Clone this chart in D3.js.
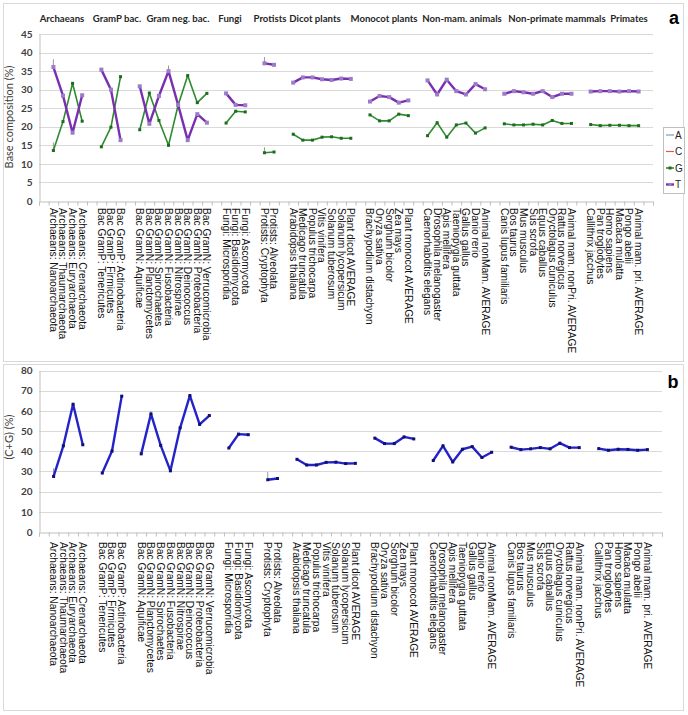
<!DOCTYPE html>
<html>
<head>
<meta charset="utf-8">
<script src="https://cdn.jsdelivr.net/npm/d3@7"></script>
<style>
  body { margin: 0; background: #fff; }
  svg { display: block; }
</style>
</head>
<body>
<script>
"use strict";

// categories along x, "" marks a blank slot between groups
var categories = ["",
  "Archaeans: Nanoarchaeota", "Archaeans: Thaumarchaeota", "Archaeans: Euryarchaeota", "Archaeans: Crenarchaeota", "",
  "Bac GramP: Tenericutes", "Bac GramP: Firmicutes", "Bac GramP: Actinobacteria", "",
  "Bac GramN: Aquificae", "Bac GramN: Planctomycetes", "Bac GramN: Spirochaetes", "Bac GramN: Fusobacteria",
  "Bac GramN: Nitrospirae", "Bac GramN: Deinococcus", "Bac GramN: Proteobacteria", "Bac GramN: Verrucomicrobia", "",
  "Fungi: Microsporidia", "Fungi: Basidiomycota", "Fungi: Ascomycota", "",
  "Protists: Cryptophyta", "Protists: Alveolata", "",
  "Arabidopsis thaliana", "Medicago truncatula", "Populus trichocarpa", "Vitis vinifera",
  "Solanum tuberosum", "Solanum lycopersicum", "Plant dicot AVERAGE", "",
  "Brachypodium distachyon", "Oryza sativa", "Sorghum bicolor", "Zea mays", "Plant monocot  AVERAGE", "",
  "Caenorhabditis elegans", "Drosophila melanogaster", "Apis mellifera", "Taeniopygia guttata",
  "Gallus gallus", "Danio rerio", "Animal nonMam. AVERAGE", "",
  "Canis lupus familiaris", "Bos taurus", "Mus musculus", "Sus scrofa", "Equus caballus",
  "Oryctolagus cuniculus", "Rattus norvegicus", "Animal mam. nonPri. AVERAGE", "",
  "Callithrix jacchus", "Pan troglodytes", "Homo sapiens", "Macaca mulatta", "Pongo abelii",
  "Animal mam. pri. AVERAGE", ""];

var groups = ["Archaeans", "GramP bac.", "Gram neg. bac.", "Fungi", "Protists", "Dicot plants",
  "Monocot plants", "Non-mam. animals", "Non-primate mammals", "Primates"];

// base composition (%) of T and G
var tValues = [null,
  36.1, 28.4, 18.4, 28.5, null,
  35.4, 30.0, 16.4, null,
  30.9, 20.8, 28.3, 35.0, 25.9, 16.4, 23.4, 21.1, null,
  29.0, 25.9, 25.8, null,
  37.1, 36.7, null,
  31.9, 33.3, 33.3, 32.8, 32.6, 33.0, 32.9, null,
  26.8, 28.3, 28.0, 26.5, 27.1, null,
  32.5, 28.7, 32.7, 29.6, 28.7, 31.5, 30.1, null,
  28.9, 29.6, 29.3, 28.9, 29.6, 28.0, 28.9, 28.9, null,
  29.5, 29.6, 29.6, 29.5, 29.6, 29.5, null];

var gValues = [null,
  13.6, 21.4, 31.7, 21.5, null,
  14.6, 19.9, 33.5, null,
  19.2, 29.1, 21.7, 15.0, 25.8, 33.8, 26.5, 29.0, null,
  21.0, 24.2, 24.0, null,
  13.0, 13.2, null,
  18.0, 16.4, 16.4, 17.2, 17.3, 16.9, 16.9, null,
  23.2, 21.6, 21.6, 23.4, 23.0, null,
  17.6, 21.1, 17.2, 20.5, 21.0, 18.3, 19.7, null,
  20.8, 20.5, 20.5, 20.7, 20.5, 21.7, 20.9, 20.9, null,
  20.6, 20.3, 20.4, 20.4, 20.3, 20.3, null];

// (C+G) content (%)
var cgValues = [null,
  27.5, 42.7, 63.3, 43.2, null,
  29.2, 40.1, 67.3, null,
  38.7, 58.5, 42.9, 30.3, 51.6, 67.6, 53.3, 57.7, null,
  41.6, 48.5, 48.2, null,
  25.9, 26.5, null,
  36.0, 33.2, 33.2, 34.5, 34.6, 33.9, 34.0, null,
  46.5, 43.8, 43.8, 47.1, 46.1, null,
  35.4, 42.7, 34.7, 41.0, 42.3, 36.9, 39.5, null,
  42.0, 40.8, 41.2, 41.8, 41.2, 44.0, 41.8, 41.8, null,
  41.3, 40.5, 41.0, 40.9, 40.5, 40.8, null];

// upper ends of the few visible error bars: [category index, value]
var tErr = [[1, 38.2], [13, 36.5], [23, 38.8]];
var gErr = [[1, 15.8], [23, 14.5]];
var cgErr = [[1, 31.6], [11, 60.0], [23, 29.7]];

var yTicksA = d3.range(0, 46, 5);
var yTicksB = d3.range(0, 81, 10);
var legendKeys = ["A", "C", "G", "T"];

var colors = { A: "#6f9fd8", C: "#e8505a", G: "#2e8b2e", T: "#7a2fb0", CG: "#2323c8" };

var W = 688, H = 715;
var svg = d3.select("body").append("svg").attr("width", W).attr("height", H)
  .style("font-family", "'Liberation Sans', Arial, sans-serif");

// panel frames
svg.append("rect").attr("x", 3.5).attr("y", 3.5).attr("width", 680).attr("height", 358)
  .attr("fill", "none").attr("stroke", "#d9d9d9");
svg.append("rect").attr("x", 3.5).attr("y", 364.5).attr("width", 680).attr("height", 346)
  .attr("fill", "#fff").attr("stroke", "#d9d9d9");

function panel(opt) {
  var g = svg.append("g");
  var x = d3.scaleBand().domain(d3.range(categories.length)).range([opt.left, opt.right]);
  var xEdge = d3.scaleLinear().domain([0, categories.length]).range([opt.left, opt.right]);
  var y = d3.scaleLinear().domain([0, opt.max]).range([opt.bottom, opt.top]);
  var cx = function (i) { return x(i) + x.bandwidth() / 2; };

  // gridlines
  g.append("g").selectAll("line").data(opt.ticks.slice(1)).join("line")
    .attr("x1", opt.left).attr("x2", opt.right)
    .attr("y1", function (d) { return Math.round(y(d)) + 0.5; })
    .attr("y2", function (d) { return Math.round(y(d)) + 0.5; })
    .attr("stroke", "#d9d9d9").attr("stroke-width", 1);

  // y axis
  var ya = g.append("g").attr("transform", "translate(" + (opt.left + 0.5) + ",0)")
    .call(d3.axisLeft(y).tickValues(opt.ticks).tickSize(0).tickPadding(7));
  ya.select(".domain").attr("stroke", "#bfbfbf");
  ya.selectAll("text").attr("font-family", "Lato, 'Liberation Sans', sans-serif")
    .attr("font-weight", "bold").attr("font-size", 10).attr("fill", "#404040");

  g.append("text").attr("transform", "translate(" + opt.titleX + "," + opt.titleY + ") rotate(-90)")
    .attr("text-anchor", "middle").attr("font-family", "Lato, 'Liberation Sans', sans-serif")
    .attr("font-size", 11).attr("fill", "#404040").text(opt.title);

  // x axis: tick marks at category edges
  var xe = g.append("g").attr("transform", "translate(0," + (Math.round(opt.bottom) + 0.5) + ")")
    .call(d3.axisBottom(xEdge).tickValues(d3.range(categories.length + 1)).tickFormat("").tickSize(4));
  xe.selectAll("line, path").attr("stroke", "#bfbfbf");

  // x axis: rotated category labels
  var xl = g.append("g").attr("transform", "translate(0," + opt.bottom + ")")
    .call(d3.axisBottom(x).tickSize(0).tickFormat(function (i) { return categories[i]; }));
  xl.select(".domain").remove();
  xl.selectAll("text")
    .attr("transform", "rotate(90)")
    .attr("x", opt.labelGap).attr("y", 0).attr("dy", "0.35em")
    .attr("text-anchor", "start")
    .attr("font-family", "'Liberation Sans', Arial, sans-serif")
    .attr("font-size", 10.2).attr("fill", "#111");

  // series
  opt.series.forEach(function (s) {
    var line = d3.line()
      .defined(function (d) { return d !== null; })
      .x(function (d, i) { return cx(i); })
      .y(function (d) { return y(d); });
    g.append("g").selectAll("line").data(s.err).join("line")
      .attr("x1", function (d) { return cx(d[0]); }).attr("x2", function (d) { return cx(d[0]); })
      .attr("y1", function (d) { return y(s.values[d[0]]); })
      .attr("y2", function (d) { return y(d[1]); })
      .attr("stroke", "#9a9a9a").attr("stroke-width", 1);
    g.append("path").datum(s.values).attr("d", line)
      .attr("fill", "none").attr("stroke", s.color).attr("stroke-width", s.width)
      .attr("stroke-linejoin", "round");
    g.append("g").selectAll("rect")
      .data(s.values.map(function (v, i) { return [i, v]; }).filter(function (d) { return d[1] !== null; }))
      .join("rect")
      .attr("x", function (d) { return cx(d[0]) - s.marker / 2; })
      .attr("y", function (d) { return y(d[1]) - s.marker / 2; })
      .attr("width", s.marker).attr("height", s.marker)
      .attr("fill", s.markerColor);
  });
  return { x: x, y: y };
}

panel({
  left: 39, right: 662, top: 370.5, bottom: 532, max: 80, ticks: yTicksB,
  title: "(C+G) (%)", titleX: 13, titleY: 437, labelGap: 10,
  series: [
    { values: cgValues, err: cgErr, color: colors.CG, width: 2.4, marker: 3, markerColor: "#101070" }
  ]
});

panel({
  left: 39, right: 653, top: 34, bottom: 201, max: 45, ticks: yTicksA,
  title: "Base composition (%)", titleX: 13, titleY: 117, labelGap: 7,
  series: [
    { values: gValues, err: gErr, color: colors.G, width: 1.6, marker: 3, markerColor: "#1d6b1d" },
    { values: tValues, err: tErr, color: colors.T, width: 2.4, marker: 4, markerColor: "#9b7cc8" }
  ]
});

// group headers over panel a
var headerX = [62, 117, 178, 230, 270, 315, 384, 462, 557, 629];
svg.append("g").selectAll("text").data(groups).join("text")
  .attr("x", function (d, i) { return headerX[i]; }).attr("y", 22)
  .attr("text-anchor", "middle").attr("font-family", "Lato, 'Liberation Sans', sans-serif")
  .attr("font-weight", "bold").attr("font-size", 9.6).attr("fill", "#262626")
  .text(function (d) { return d; });

// panel letters
svg.append("text").attr("x", 674).attr("y", 24).attr("text-anchor", "middle")
  .attr("font-family", "'Liberation Sans', Arial, sans-serif").attr("font-weight", "bold")
  .attr("font-size", 18).text("a");
svg.append("text").attr("x", 673).attr("y", 388).attr("text-anchor", "middle")
  .attr("font-family", "'Liberation Sans', Arial, sans-serif").attr("font-weight", "bold")
  .attr("font-size", 18).text("b");

// legend for panel a
var lg = svg.append("g").attr("transform", "translate(663,127)");
lg.append("rect").attr("x", 0.5).attr("y", 0.5).attr("width", 21).attr("height", 66)
  .attr("fill", "#fff").attr("stroke", "#bfbfbf");
lg.selectAll("g.key").data(legendKeys).join("g").attr("class", "key")
  .attr("transform", function (d, i) { return "translate(0," + (8 + i * 16.5) + ")"; })
  .each(function (d) {
    var k = d3.select(this);
    k.append("line").attr("x1", 3).attr("x2", 11).attr("y1", 0).attr("y2", 0)
      .attr("stroke", colors[d]).attr("stroke-width", d === "T" ? 2.4 : (d === "G" ? 1.6 : 1.2));
    if (d === "G" || d === "T") {
      k.append("rect").attr("x", 5.5).attr("y", -1.5).attr("width", 3).attr("height", 3)
        .attr("fill", d === "G" ? "#1d6b1d" : "#9b7cc8");
    }
    k.append("text").attr("x", 12).attr("y", 0).attr("dy", "0.35em")
      .attr("font-size", 10).attr("fill", "#222").text(d);
  });
</script>
</body>
</html>
